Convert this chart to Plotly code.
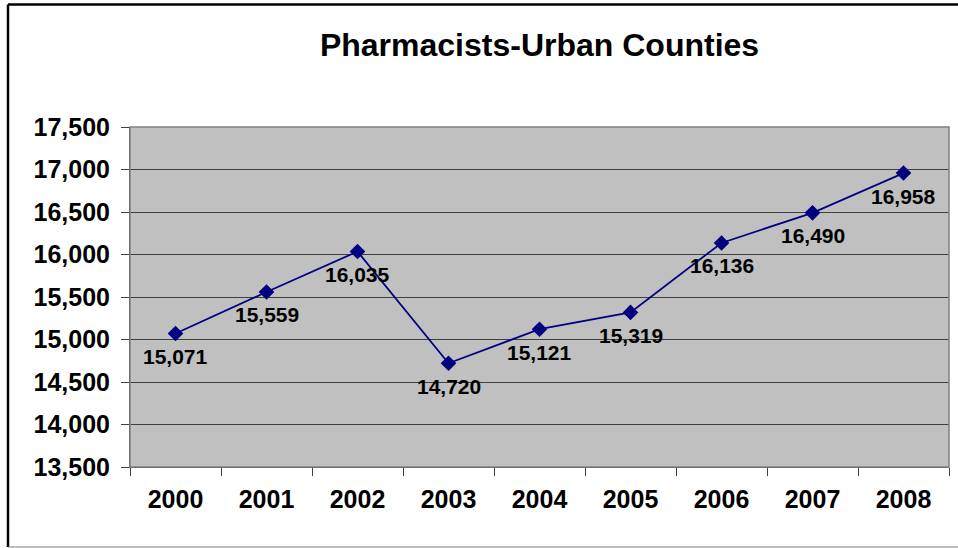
import plotly.graph_objects as go

years = ["2000", "2001", "2002", "2003", "2004", "2005", "2006", "2007", "2008"]
pharmacists = [15071, 15559, 16035, 14720, 15121, 15319, 16136, 16490, 16958]
y_ticks = [13500, 14000, 14500, 15000, 15500, 16000, 16500, 17000, 17500]

W, H = 958, 548
L, R, T, B = 130, 9, 127, 81
pw, ph = W - L - R, H - T - B

font_family = "Arial, Liberation Sans, sans-serif"

fig = go.Figure()
fig.add_trace(go.Scatter(
    x=years, y=pharmacists,
    mode="lines+markers",
    line=dict(color="#000080", width=1.8),
    marker=dict(symbol="diamond", size=12, color="#000080"),
    hoverinfo="x+y",
))

for i, v in enumerate(pharmacists):
    fig.add_annotation(
        x=i, y=v, text=f"<b>{v:,}</b>", showarrow=False,
        yshift=-23, xanchor="center", yanchor="middle",
        font=dict(family=font_family, size=21, color="black"),
    )

def px_x(p):
    return (p - L) / pw

def px_y(p):
    return (H - B - p) / ph

fig.update_layout(
    width=W, height=H,
    margin=dict(l=L, r=R, t=T, b=B),
    paper_bgcolor="white",
    plot_bgcolor="#C0C0C0",
    showlegend=False,
    title=dict(text="<b>Pharmacists-Urban Counties</b>", x=0.5, xref="paper",
               y=1 - 45 / H, yanchor="middle",
               font=dict(family=font_family, size=32, color="black")),
    font=dict(family=font_family, color="black"),
    xaxis=dict(
        type="category", tickson="boundaries", ticks="outside", ticklen=8,
        tickcolor="#404040", showgrid=False, showline=True, linecolor="#404040",
        tickfont=dict(family=font_family, size=25, color="black", weight="bold"),
        range=[-0.5, len(years) - 0.5],
        ticklabelstandoff=10,
    ),
    yaxis=dict(
        range=[y_ticks[0], y_ticks[-1]], tickvals=y_ticks,
        ticktext=[f"{v:,}" for v in y_ticks],
        ticks="outside", ticklen=8, tickcolor="#404040",
        showgrid=True, gridcolor="#404040", gridwidth=1,
        showline=True, linecolor="#404040", zeroline=False,
        tickfont=dict(family=font_family, size=25, color="black", weight="bold"),
        ticklabelstandoff=6,
    ),
    shapes=[
        dict(type="rect", xref="paper", yref="paper", x0=0, x1=1, y0=0, y1=1,
             line=dict(color="#808080", width=1.5), layer="above"),
        # outer chart frame: thick black left/top, thin gray bottom
        dict(type="line", xref="paper", yref="paper",
             x0=px_x(8), x1=px_x(8), y0=px_y(547), y1=px_y(4.5),
             line=dict(color="black", width=2.5)),
        dict(type="line", xref="paper", yref="paper",
             x0=px_x(8), x1=px_x(962), y0=px_y(4.5), y1=px_y(4.5),
             line=dict(color="black", width=2.5)),
        dict(type="line", xref="paper", yref="paper",
             x0=px_x(8), x1=px_x(962), y0=px_y(547), y1=px_y(547),
             line=dict(color="#808080", width=1.2)),
    ],
)

fig.write_html("out.html")
